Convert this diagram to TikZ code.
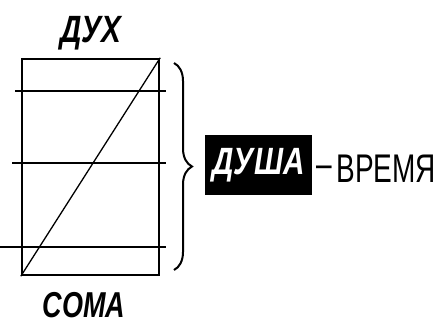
\documentclass[tikz,border=0pt]{standalone}
\usepackage{fontspec}
\setmainfont{Liberation Sans}
\usetikzlibrary{positioning,decorations.pathreplacing}

\begin{document}
\begin{tikzpicture}[x=1pt, y=-1pt,
  frame/.style={rectangle, draw, line width=2.4pt, minimum width=137pt, minimum height=216pt, inner sep=0pt},
  level/.style={line width=2.8pt},
  title/.style={inner sep=0pt, text depth=0pt, anchor=base},
  soulbox/.style={rectangle, fill=black, text=white, font=\fontsize{38}{40}\selectfont\bfseries\itshape, minimum width=107pt, minimum height=60pt, inner sep=0pt},
  brc/.style={decorate, decoration={brace, amplitude=18pt, aspect=0.5}, line width=2pt}
]
  \useasboundingbox (0,0) rectangle (444,325);

  % spirit and body around the column
  \node[title, font=\fontsize{38}{40}\selectfont\bfseries\itshape] (spirit) at (91,42) {\scalebox{0.78}[1]{ДУХ}};
  \node[frame] (col) at (90.5,167) {};
  \node[title, font=\fontsize{36}{38}\selectfont\bfseries\itshape] (body) at (84,317) {\scalebox{0.75}[1]{СОМА}};

  \draw[line width=1.3pt] (col.south west) -- (col.north east);
  \draw[level] (15,91) -- (166,91);
  \draw[level] (12,163) -- (166,163);
  \draw[level] (0,247) -- (166,247);

  % brace to the soul
  \coordinate (btop) at (174,63);
  \coordinate (bbot) at (174,270);
  \draw[brc] (btop) -- (bbot);

  \node[soulbox] (soul) at (258.5,165) {\scalebox{0.78}[1]{ДУША}};
  \node[anchor=west, inner sep=0pt, font=\fontsize{40}{42}\selectfont] (time) at (316,169) {\scalebox{0.7}[1]{\raisebox{0.12em}{–}\,ВРЕМЯ}};
\end{tikzpicture}
\end{document}
